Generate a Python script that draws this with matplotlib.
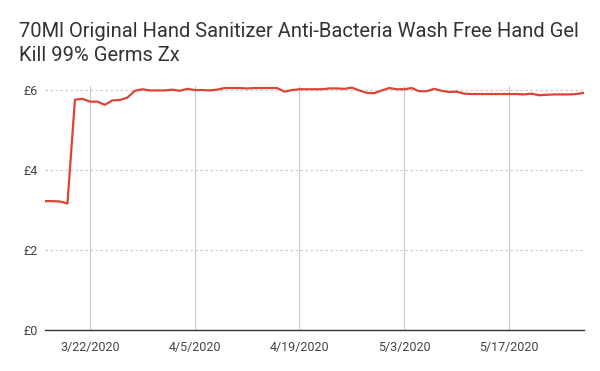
import pandas as pd
import matplotlib.pyplot as plt
import matplotlib.dates as mdates

plt.rcParams['font.family'] = ['Roboto', 'DejaVu Sans']

# daily prices, 3/16/2020 .. 5/27/2020
dates = pd.date_range("2020-03-16", "2020-05-27", freq="D")
prices = [
    3.23, 3.23, 3.22, 3.17, 5.77, 5.79, 5.72, 5.72, 5.64, 5.75,   # 3/16 - 3/25
    5.76, 5.82, 5.99, 6.03, 6.00, 6.00, 6.00, 6.02, 5.99, 6.04,   # 3/26 - 4/4
    6.01, 6.01, 6.00, 6.02, 6.06, 6.06, 6.06, 6.05, 6.06, 6.06,   # 4/5 - 4/14
    6.06, 6.06, 5.97, 6.01, 6.03, 6.03, 6.03, 6.03, 6.05, 6.05,   # 4/15 - 4/24
    6.04, 6.07, 6.00, 5.94, 5.93, 6.00, 6.06, 6.03, 6.03, 6.06,   # 4/25 - 5/4
    5.98, 5.98, 6.04, 5.99, 5.96, 5.97, 5.92, 5.91, 5.91, 5.91,   # 5/5 - 5/14
    5.91, 5.91, 5.91, 5.91, 5.90, 5.92, 5.88, 5.89, 5.90, 5.90,   # 5/15 - 5/24
    5.90, 5.91, 5.94,                                             # 5/25 - 5/27
]
tick_dates = pd.to_datetime(["2020-03-22", "2020-04-05", "2020-04-19", "2020-05-03", "2020-05-17"])
y_ticks = [0, 2, 4, 6]

fig = plt.figure(figsize=(6, 3.71), dpi=100)
ax = fig.add_axes([0.075, 0.11, 0.898, 0.657])

ax.plot(dates, prices, color="#db4437", linewidth=1.6, zorder=3)

ax.set_xlim(dates[0], dates[-1])
ax.set_ylim(0, 6.1)

ax.set_xticks(tick_dates)
ax.xaxis.set_major_formatter(mdates.DateFormatter("%-m/%-d/%Y"))
ax.set_yticks(y_ticks)
ax.set_yticklabels([f"£{v}" for v in y_ticks])

ax.tick_params(axis="both", length=0, labelsize=9, colors="#444444")
ax.tick_params(axis="x", pad=8)
ax.tick_params(axis="y", pad=5)

ax.grid(axis="x", color="#cccccc", linewidth=0.9)
ax.grid(axis="y", color="#cccccc", linewidth=0.9, linestyle=(0, (2, 2)))
ax.set_axisbelow(True)

for side in ["top", "right", "left"]:
    ax.spines[side].set_visible(False)
ax.spines["bottom"].set_color("#333333")
ax.spines["bottom"].set_linewidth(1)

fig.text(0.031, 0.94, "70Ml Original Hand Sanitizer Anti-Bacteria Wash Free Hand Gel\nKill 99% Germs Zx",
         fontsize=14.5, color="#333333", ha="left", va="top", linespacing=1.3)

fig.savefig("out.png", dpi=100)
